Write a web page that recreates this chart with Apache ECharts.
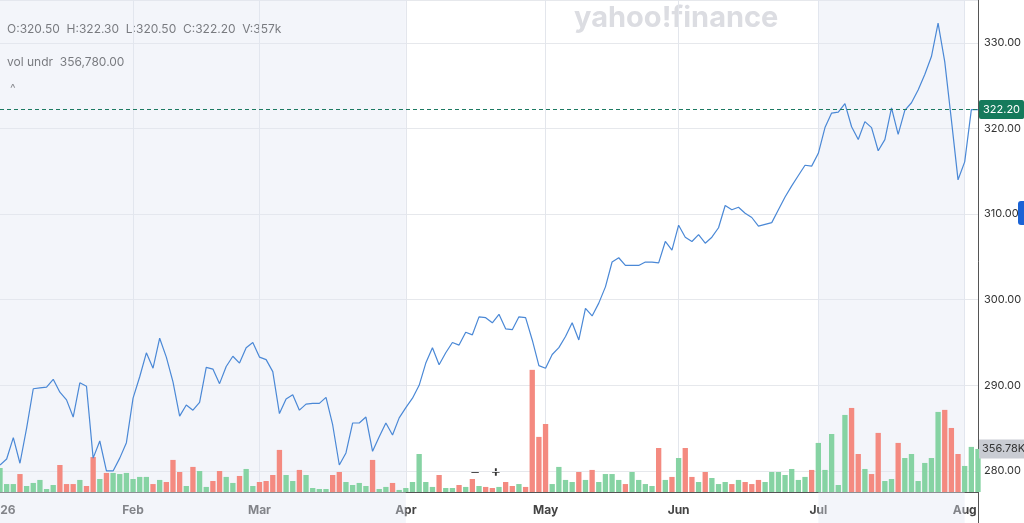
<!DOCTYPE html>
<html>
<head>
<meta charset="utf-8">
<script src="https://cdn.jsdelivr.net/npm/echarts@6/dist/echarts.min.js"></script>
<style>
  html, body { margin: 0; padding: 0; background: #fff; }
  #chart { width: 1024px; height: 523px; }
</style>
</head>
<body>
<div id="chart"></div>
<script>
// daily closes, Jan 2 .. Aug 5 2026
var closes = [
  280.7, 281.4, 283.9, 280.9, 285, 289.6, 289.7, 289.8, 290.7, 289.2,
  288.3, 286.3, 290.3, 289.9, 281.5, 283.5, 280, 280, 281.5, 283.3,
  288.5, 291, 293.8, 292, 295.5, 293.3, 290.4, 286.4, 287.7, 287.1,
  288, 292.1, 291.9, 290.2, 292.2, 293.4, 292.6, 294.4, 295, 293.3,
  293, 291.6, 286.7, 288.4, 288.9, 287.1, 287.8, 287.9, 287.9, 288.6,
  285.4, 280.7, 282.1, 285.6, 285.6, 286.3, 282.3, 284, 285.6, 284.2,
  286.2, 287.4, 288.5, 290, 292.6, 294.4, 292.4, 293.8, 295, 294.7,
  296.2, 295.9, 298, 297.9, 297.3, 298.3, 296.6,
  296.5, 298, 297.9, 295.3, 292.3, 292, 293.6, 294.4, 295.7, 297.3,
  295.3, 299, 298.1, 299.6, 301.5, 304.4, 304.9, 304, 304, 304,
  304.4, 304.4, 304.3, 306.8, 305.8, 308.7, 307.3, 306.8, 307.6, 306.6,
  307.3, 308.4, 311, 310.5, 310.8, 310.1, 309.6, 308.6, 308.8, 309, 310.5,
  312, 313.3, 314.5, 315.7, 315.6, 317.1, 320.1, 321.8, 321.9, 322.9,
  320.2, 318.7, 320.8, 320.1, 317.4, 318.7, 322.4, 319.3, 322.1, 323,
  324.5, 326.3, 328.4, 332.3, 327.8, 321, 314, 316.1, 322.2, 322.2
];
// volume, thousands
var volumes = [
  199, 66, 66, 149, 50, 75, 100, 25, 58, 224,
  66, 66, 100, 50, 290, 108, 158, 158, 149, 158,
  108, 125, 125, 66, 100, 83, 266, 166, 50, 208,
  174, 42, 91, 174, 125, 75, 133, 191, 50, 83,
  91, 141, 349, 141, 91, 183, 141, 33, 25, 25,
  141, 166, 83, 58, 75, 50, 266, 25, 42, 75,
  17, 33, 83, 315, 83, 42, 141, 33, 33, 58,
  42, 108, 50, 42, 33, 42, 83,
  50, 66, 42, 1013, 457, 564, 66, 208, 100, 83,
  166, 100, 183, 83, 149, 149, 100, 66, 166, 100,
  66, 50, 365, 100, 125, 282, 365, 125, 83, 166,
  116, 66, 83, 66, 100, 83, 66, 100, 83, 166, 166,
  141, 191, 100, 125, 183, 407, 183, 481, 58, 639,
  697, 315, 191, 149, 490, 91, 108, 407, 282, 315,
  91, 241, 282, 664, 681, 531, 315, 216, 374, 357
];
var monthNames = ['2026', 'Feb', 'Mar', 'Apr', 'May', 'Jun', 'Jul', 'Aug'];
var holidays = ['2026-01-19', '2026-02-16', '2026-04-03', '2026-05-25', '2026-06-19', '2026-07-03'];
var lastClose = 322.2;
var lastVol = 357;
var lastVolText = '356.78K';

// trading days
var dates = [];
var d = new Date(Date.UTC(2026, 0, 2));
while (dates.length < closes.length) {
  var wd = d.getUTCDay();
  var s = d.toISOString().slice(0, 10);
  if (wd !== 0 && wd !== 6 && holidays.indexOf(s) < 0) dates.push(s);
  d.setUTCDate(d.getUTCDate() + 1);
}
var monthStart = {};
dates.forEach(function (s, i) {
  var m = s.slice(0, 7);
  if (!(m in monthStart)) monthStart[m] = i;
});
function isMonthStart(i) { return monthStart[dates[i].slice(0, 7)] === i; }

var volData = volumes.map(function (v, i) {
  var up = i === 0 || closes[i] >= closes[i - 1];
  return { value: v, itemStyle: { color: up ? '#86d3a3' : '#f48a80' } };
});

var myChart = echarts.init(document.getElementById('chart'));
var option = {
  animation: false,
  backgroundColor: '#fff',
  textStyle: { fontFamily: 'Inter, sans-serif' },
  grid: [
    { left: 0, right: 46, top: 0, height: 556.6, containLabel: false, outerBoundsMode: 'none' },
    { left: 0, right: 46, top: 0, bottom: 31, containLabel: false, outerBoundsMode: 'none' }
  ],
  xAxis: [
    { type: 'category', gridIndex: 0, data: dates, boundaryGap: false, show: false },
    {
      type: 'category', gridIndex: 1, data: dates, boundaryGap: false,
      axisLine: { lineStyle: { color: '#555' } },
      axisTick: { show: false },
      axisLabel: {
        interval: function (i) { return isMonthStart(i); },
        formatter: function (v) { return monthNames[parseInt(v.slice(5, 7), 10) - 1]; },
        color: '#444', fontSize: 12, fontWeight: 'bold', margin: 12, hideOverlap: false
      },
      splitLine: {
        show: true, interval: function (i) { return isMonthStart(i) && i > 0; },
        lineStyle: { color: '#e3e6ec' }
      }
    }
  ],
  yAxis: [
    {
      type: 'value', gridIndex: 0, position: 'right', min: 270, max: 335, interval: 10,
      axisLine: { show: true, lineStyle: { color: '#555' } },
      axisTick: { show: false },
      axisLabel: { color: '#333', fontSize: 11, margin: 6, showMaxLabel: false,
        formatter: function (v) { return v.toFixed(2); } },
      splitLine: { lineStyle: { color: '#e6e8ec' } }
    },
    { type: 'value', gridIndex: 1, min: 0, max: 4080, show: false }
  ],
  series: [
    {
      type: 'bar', xAxisIndex: 1, yAxisIndex: 1, data: volData, barWidth: '80%', z: 3,
      markLine: {
        silent: true, symbol: 'none', lineStyle: { color: 'rgba(0,0,0,0)', width: 0 },
        label: {
          position: 'end', formatter: lastVolText, color: '#333', fontSize: 11,
          backgroundColor: '#c9ccd3', padding: [4, 3], distance: 1
        },
        data: [{ yAxis: lastVol }]
      }
    },
    {
      type: 'line', xAxisIndex: 0, yAxisIndex: 0, data: closes, symbol: 'none', z: 4,
      lineStyle: { color: '#4a88d6', width: 1.2 },
      markArea: {
        silent: true,
        itemStyle: { color: 'rgba(225,231,243,0.4)' },
        data: [
          [{ xAxis: dates[0] }, { xAxis: dates[monthStart['2026-04']] }],
          [{ xAxis: dates[monthStart['2026-07']] }, { xAxis: dates[monthStart['2026-08']] }]
        ]
      },
      markLine: {
        silent: true, symbol: 'none',
        lineStyle: { color: '#1d7a62', type: [4, 3], width: 1 },
        label: {
          position: 'end', formatter: lastClose.toFixed(2), color: '#fff', fontSize: 11,
          backgroundColor: '#157a5c', padding: [4, 4], borderRadius: 2, distance: 1
        },
        data: [{ yAxis: lastClose }]
      }
    }
  ],
  graphic: [
    { type: 'text', left: 7, top: 23, style: { text: 'O:320.50  H:322.30  L:320.50  C:322.20  V:357k', fill: '#333', font: '12px Inter, sans-serif' } },
    { type: 'rect', left: 2, top: 51, shape: { width: 122, height: 22, r: 3 }, style: { fill: '#fff' } },
    { type: 'text', left: 7, top: 56, style: { text: 'vol undr  356,780.00', fill: '#333', font: '12px Inter, sans-serif' } },
    { type: 'rect', left: 4, top: 78, shape: { width: 20, height: 22, r: 3 }, style: { fill: '#fff' } },
    { type: 'text', left: 10, top: 82, style: { text: '^', fill: '#555', font: '12px Inter, sans-serif' } },
    { type: 'text', left: 574, top: 4, style: { text: 'yahoo!finance', fill: '#dcdde2', font: 'bold 29px Inter, sans-serif' } },
    { type: 'rect', left: 462, top: 463, shape: { width: 48, height: 22, r: 3 }, style: { fill: 'rgba(255,255,255,0.8)' } },
    { type: 'text', left: 470, top: 464, style: { text: '−   +', fill: '#333', font: 'bold 15px Inter, sans-serif' } },
    { type: 'rect', left: 1018, top: 201, shape: { width: 10, height: 24, r: 3 }, style: { fill: '#1a63d6' } }
  ]
};
myChart.setOption(option);
</script>
</body>
</html>
